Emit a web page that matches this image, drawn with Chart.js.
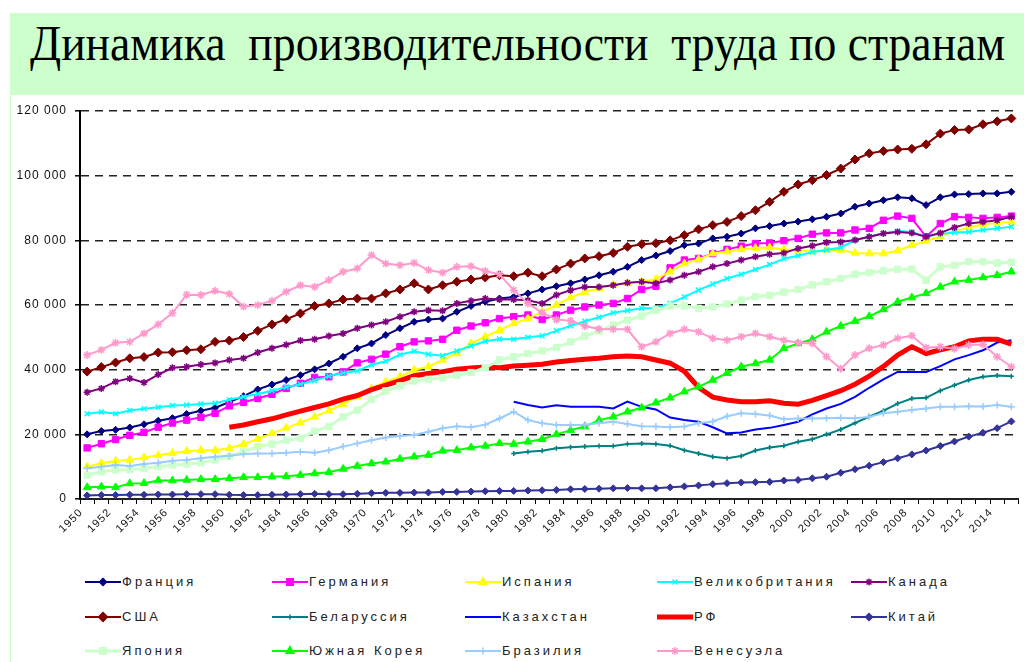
<!DOCTYPE html>
<html>
<head>
    <meta charset="utf-8">
    <title>Динамика производительности труда по странам</title>
    <script src="https://cdn.jsdelivr.net/npm/chart.js"></script>
    <style>
        body { margin: 0; background: #fff; }
        .page { position: relative; width: 1024px; height: 662px; overflow: hidden; background: #fff; }
        .frame { position: absolute; left: 10px; top: 95px; width: 1px; height: 567px; background: #ccffcc; }
        .header { position: absolute; left: 10px; top: 13px; width: 1014px; height: 82px; background: #ccffcc; }
        .title {
            position: absolute; left: 30px; top: 18px;
            font-family: "Liberation Serif", "DejaVu Serif", serif;
            font-size: 50px; line-height: 50px; color: #000;
            white-space: pre; transform-origin: 0 0;
        }
        #chart { position: absolute; left: 0; top: 95px; }
        .legend-item { position: absolute; height: 16px; }
        .legend-item canvas { position: absolute; left: 0; top: 0; }
        .legend-item span {
            position: absolute; left: 37px; top: -1px;
            font-family: "Liberation Sans", Arial, sans-serif;
            font-size: 13px; line-height: 18px; letter-spacing: 3px;
            color: #222; white-space: nowrap;
        }
    </style>
</head>
<body>
<div class="page">
    <div class="header"></div>
    <div class="frame"></div>
    <div class="title" id="title">Динамика  производительности  труда по странам</div>
    <canvas id="chart" width="1024" height="470"></canvas>
    <div id="legend"></div>
</div>

<script>
    // Годы (категории оси X)
    const years = ['1950','1951','1952','1953','1954','1955','1956','1957','1958','1959',
        '1960','1961','1962','1963','1964','1965','1966','1967','1968','1969',
        '1970','1971','1972','1973','1974','1975','1976','1977','1978','1979',
        '1980','1981','1982','1983','1984','1985','1986','1987','1988','1989',
        '1990','1991','1992','1993','1994','1995','1996','1997','1998','1999',
        '2000','2001','2002','2003','2004','2005','2006','2007','2008','2009',
        '2010','2011','2012','2013','2014','2015'];

    // Подписи, которые показываются на оси X
    const tickYears = ['1950','1952','1954','1956','1958','1960','1962','1964','1966','1968',
        '1970','1972','1974','1976','1978','1980','1982','1984','1986','1988',
        '1990','1992','1994','1996','1998','2000','2002','2004','2006','2008',
        '2010','2012','2014'];

    const france = [20000,21000,21400,22100,23100, 24200,25000,26300,27300,28200,
        30000,31800,33900,35400,36800, 38300,40100,41900,44000,46600,
        48100,50700,52800,54800,55500, 55800,57900,59700,61000,62000,
        62500,63600,64800,65800,66700, 67900,69200,70300,71800,73900,
        75300,76700,78500,79000,80600, 81100,82100,83700,84400,85200,
        85800,86500,87300,88300,90400, 91400,92400,93300,93000,90900,
        93300,94200,94300,94500,94500, 95000];

    const germany = [15800,17100,18400,19700,20600, 22200,23500,24400,25300,26500,
        28800,29900,31100,32400,34200, 35800,37600,37800,39300,42100,
        43200,44800,47100,48600,48900, 49400,52200,53500,54500,55800,
        56400,56900,55500,56900,58400, 59400,60000,60500,62000,64800,
        65800,71500,73900,74400,75900, 77200,78200,79000,79200,79900,
        80600,81900,82300,82300,83200, 83700,86200,87500,86800,81100,
        85200,87300,87100,86800,87100, 87500];

    const spain = [10000,11100,11800,12100,12800, 13500,14200,14800,15100,15100,
        15700,17000,18500,20300,22000, 23600,25400,27300,29400,31600,
        34200,36300,37800,39900,40900, 43000,45000,48100,50200,52200,
        54300,55800,57900,60000,62300, 64000,65200,66200,66700,67200,
        68000,70300,72800,74100,75900, 76500,77200,77600,77800,77200,
        77000,76500,77000,77000,76100, 75900,75900,76800,78500,79800,
        81200,82800,84000,85000,85400, 85700];

    const britain = [26400,26900,26400,27400,27900, 28400,28900,29100,29400,29600,
        30700,31600,32500,33500,34600, 35500,36600,38000,39000,39600,
        41500,42600,44600,45700,44800, 44300,45800,47300,48800,49500,
        49400,50000,50500,52000,53600, 55000,56200,57600,58300,59000,
        59000,60500,62500,64600,66500, 68200,69500,71000,72500,74300,
        75200,76400,77000,77800,80000, 81100,82200,82900,82600,81100,
        82000,82400,82600,83200,83700, 84200];

    const canada = [33000,34200,36300,37300,36000, 38500,40600,40900,41600,42100,
        43000,43500,45300,46600,47700, 49000,49400,50400,51200,52800,
        53800,54800,56400,57900,58400, 58200,60500,61300,62000,61700,
        61700,61500,60500,63100,64600, 65600,65600,66100,66900,67200,
        66700,67700,69200,70300,71800, 72800,73900,74900,75700,76100,
        77500,78300,79300,79500,80100, 81100,82100,82600,82300,81100,
        82300,84000,85200,85700,86200, 87300];

    const usa = [39400,40800,42200,43500,43900, 45300,45400,46000,46300,48600,
        49000,50100,52000,54000,55600, 57400,59700,60500,61700,62000,
        62000,63600,64800,66700,64800, 66100,67200,67900,68500,69200,
        68900,70000,68900,71000,72800, 74400,75100,76100,78000,78800,
        79100,80000,81600,83400,84700, 85700,87500,89300,91900,95000,
        97300,98600,100200,102200,105000, 106900,107600,108100,108300,109700,
        113000,114100,114300,115900,116800, 117700];

    const belarus = [null,null,null,null,null, null,null,null,null,null,
        null,null,null,null,null, null,null,null,null,null,
        null,null,null,null,null, null,null,null,null,null,
        14100,14600,14900,15700,16000, 16200,16400,16400,17000,17200,
        17000,16500,15100,14100,13100, 12600,13300,15000,15900,16500,
        17700,18500,20000,21500,23500, 25500,27300,29500,31100,31300,
        33500,35200,36800,37800,38200, 38000];

    const kazakhstan = [null,null,null,null,null, null,null,null,null,null,
        null,null,null,null,null, null,null,null,null,null,
        null,null,null,null,null, null,null,null,null,null,
        30100,29100,28300,29000,28500, 28500,28500,28000,30100,28500,
        27700,25200,24400,23900,22200, 20300,20600,21500,22000,22900,
        23900,26200,28000,29400,31600, 34400,37000,39300,39300,39300,
        41100,43200,44500,46000,48400, 49100];

    const russia = [null,null,null,null,null, null,null,null,null,null,
        22200,22900,23900,24800,26000, 27200,28300,29400,30900,32000,
        33800,35200,36600,38100,38800, 39400,40100,40500,40800,40600,
        41100,41400,41700,42400,42800, 43200,43500,44000,44200,44000,
        43000,42000,39500,34500,31500, 30600,30100,30100,30400,29600,
        29300,30500,32000,33500,35500, 38000,41000,44500,47100,45000,
        46100,47100,48900,49400,49400, 47900];

    const china = [1100,1200,1200,1300,1300, 1400,1400,1500,1500,1500,
        1300,1200,1200,1300,1400, 1500,1600,1500,1500,1600,
        1800,1900,1900,2000,2000, 2200,2200,2300,2400,2500,
        2500,2600,2700,2800,3000, 3100,3200,3300,3400,3300,
        3300,3600,3900,4200,4600, 4900,5100,5200,5300,5700,
        5900,6400,6900,8100,9200, 10300,11400,12600,13800,15000,
        16400,17800,19300,20500,21900, 24000];

    const japan = [7400,8400,9000,9100,9500, 10000,10500,10800,11200,12100,
        13100,14600,16200,17000,18200, 18800,21000,22400,25400,27500,
        30800,33400,35000,36500,37000, 37400,38300,39100,40600,43000,
        44000,45000,45800,46800,48600, 50400,51900,53800,55300,56600,
        58400,59700,59700,59000,59400, 60300,61500,62600,63000,64000,
        64800,66200,67200,68200,69500, 70000,70600,71000,71100,67700,
        71800,72300,73400,73400,73000, 73200];

    const korea = [3600,3800,3600,4800,4900, 5700,5700,5900,6100,6100,
        6400,6700,6700,6900,7000, 7400,7900,8300,9300,10200,
        11000,11500,12400,13100,13600, 14900,15100,15900,16400,17200,
        17000,17700,18500,20000,21300, 22400,24400,25400,27000,28200,
        29800,31300,33200,34700,36800, 38900,40900,41900,43000,46600,
        48100,49400,51700,53500,55000, 56500,58600,61000,62300,63600,
        65600,67200,67700,68500,69200, 70300];

    const brazil = [9500,10000,10500,10200,10800, 11200,11800,12100,12600,13100,
        13400,13900,14100,14100,14300, 14600,14300,15100,16200,17200,
        18200,19000,19500,19800,20800, 21900,22500,22200,23000,24900,
        27000,24400,23400,22900,22900, 23000,23400,23900,23200,22500,
        22400,22200,22400,23400,24000, 25600,26500,26300,25800,24700,
        24900,24900,25000,25100,25000, 25400,26500,27000,27500,28000,
        28500,28500,28700,28600,29100, 28500];

    const venezuela = [44500,46100,48300,48600,51200, 54000,57500,63200,63100,64400,
        63400,59500,60000,61300,64100, 66100,65600,67700,70300,71300,
        75400,72800,72300,73000,70800, 70000,71800,72000,70500,69500,
        64600,60500,57600,55500,55100, 53500,52600,52500,52500,47100,
        48600,51200,52500,51700,49700, 49100,50200,51200,50200,49100,
        48300,48100,44000,40300,44500, 46600,47600,49700,50500,46800,
        47100,46500,47600,47800,44000, 40900];

    // Серии: название, данные, цвет, маркер
    const series = [
        { name: 'Франция', data: france, color: '#000080', style: 'rectRot', radius: 3.5, width: 2 },
        { name: 'Германия', data: germany, color: '#ff00ff', style: 'rect', radius: 4.5, width: 2 },
        { name: 'Испания', data: spain, color: '#ffff00', style: 'triangle', radius: 4.5, width: 2 },
        { name: 'Великобритания', data: britain, color: '#00ffff', style: 'crossRot', radius: 3.5, width: 2 },
        { name: 'Канада', data: canada, color: '#800080', style: 'star', radius: 3.5, width: 2 },
        { name: 'США', data: usa, color: '#800000', style: 'rectRot', radius: 4.5, width: 2 },
        { name: 'Беларуссия', data: belarus, color: '#008080', style: 'cross', radius: 2.5, width: 2 },
        { name: 'Казахстан', data: kazakhstan, color: '#0000ff', style: 'circle', radius: 0, width: 2 },
        { name: 'РФ', data: russia, color: '#ff0000', style: 'circle', radius: 0, width: 5 },
        { name: 'Китай', data: china, color: '#333399', style: 'rectRot', radius: 3.5, width: 2 },
        { name: 'Япония', data: japan, color: '#ccffcc', style: 'rect', radius: 4.5, width: 3 },
        { name: 'Южная Корея', data: korea, color: '#00ff00', style: 'triangle', radius: 4.5, width: 2 },
        { name: 'Бразилия', data: brazil, color: '#99ccff', style: 'cross', radius: 3.5, width: 2 },
        { name: 'Венесуэла', data: venezuela, color: '#ff99cc', style: 'star', radius: 4, width: 2 }
    ];

    // Заголовок: подгоняем ширину
    const titleEl = document.getElementById('title');
    titleEl.style.transform = 'scaleX(' + (975 / titleEl.offsetWidth) + ')';

    // Разрядка текста на холсте
    const spacingPlugin = {
        id: 'spacing',
        beforeLayout(chart) { chart.ctx.letterSpacing = '1px'; },
        beforeDraw(chart) { chart.ctx.letterSpacing = '1px'; }
    };

    const ctx = document.getElementById('chart').getContext('2d');
    new Chart(ctx, {
        type: 'line',
        data: {
            labels: years,
            datasets: series.map((s, i) => ({
                label: s.name,
                data: s.data,
                borderColor: s.color,
                backgroundColor: s.color,
                borderWidth: s.width,
                pointStyle: s.style,
                pointRadius: s.radius,
                pointBackgroundColor: s.color,
                pointBorderColor: s.color,
                pointBorderWidth: (s.style === 'cross' || s.style === 'crossRot' || s.style === 'star') ? 1.5 : 1,
                tension: 0,
                fill: false,
                order: series.length - i
            }))
        },
        options: {
            responsive: false,
            animation: false,
            devicePixelRatio: 1,
            layout: { padding: { left: 0, right: 4, top: 16, bottom: 0 } },
            plugins: {
                legend: { display: false },
                tooltip: { enabled: false }
            },
            scales: {
                x: {
                    offset: true,
                    grid: {
                        display: true,
                        drawOnChartArea: false,
                        offset: true,
                        tickLength: 5,
                        tickColor: '#000',
                        tickWidth: 1
                    },
                    border: { color: '#222', width: 2 },
                    ticks: {
                        autoSkip: false,
                        maxRotation: 45,
                        minRotation: 45,
                        padding: 2,
                        labelOffset: -6,
                        color: '#111',
                        font: { family: 'Liberation Sans', size: 11 },
                        callback: function (value, index) {
                            const label = years[index];
                            return tickYears.includes(label) ? label : '';
                        }
                    },
                    afterFit: scale => { scale.height = 66; }
                },
                y: {
                    min: 0,
                    max: 120000,
                    grid: {
                        color: '#222',
                        lineWidth: 1.6,
                        tickLength: 5,
                        tickColor: '#000',
                        tickWidth: 1.5,
                        tickBorderDash: []
                    },
                    border: { color: '#000', width: 2, dash: [8, 6] },
                    ticks: {
                        stepSize: 20000,
                        padding: 8,
                        color: '#111',
                        font: { family: 'Liberation Sans', size: 12 },
                        callback: v => String(v).replace(/\B(?=(\d{3})+(?!\d))/g, ' ')
                    },
                    afterFit: scale => { scale.width = 80; }
                }
            }
        },
        plugins: [spacingPlugin]
    });

    // Легенда: 5 колонок, 3 строки
    const legendCols = [85, 272, 465, 657, 851];
    const legendRows = [574, 609, 643];
    const legendEl = document.getElementById('legend');
    series.forEach((s, i) => {
        const item = document.createElement('div');
        item.className = 'legend-item';
        item.style.left = legendCols[i % 5] + 'px';
        item.style.top = legendRows[Math.floor(i / 5)] + 'px';
        const c = document.createElement('canvas');
        c.width = 36; c.height = 16;
        const g = c.getContext('2d');
        g.strokeStyle = s.color;
        g.fillStyle = s.color;
        g.lineWidth = s.width;
        g.beginPath(); g.moveTo(0, 8); g.lineTo(36, 8); g.stroke();
        if (s.radius > 0) {
            g.lineWidth = 1.5;
            Chart.helpers.drawPoint(g, { pointStyle: s.style, radius: s.radius, rotation: 0, borderWidth: 1.5 }, 18, 8);
        }
        const t = document.createElement('span');
        t.textContent = s.name;
        item.appendChild(c);
        item.appendChild(t);
        legendEl.appendChild(item);
    });
</script>
</body>
</html>
